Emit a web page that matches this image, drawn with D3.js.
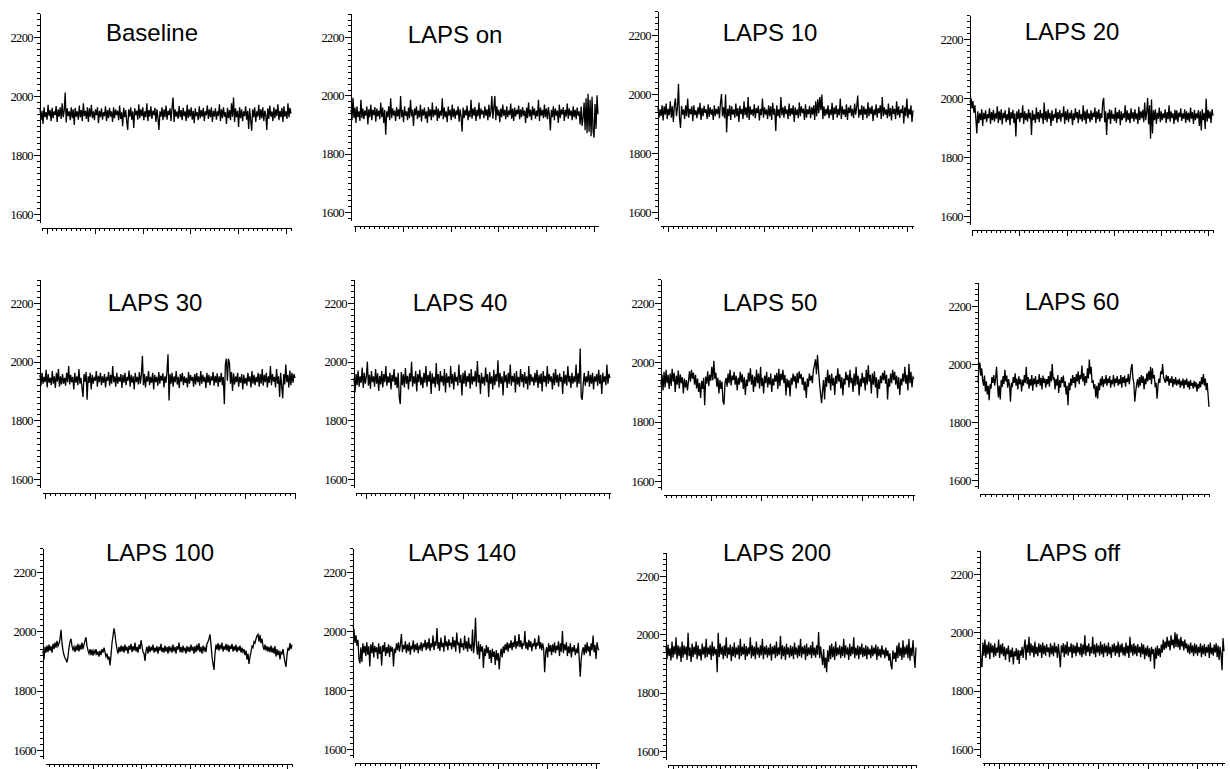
<!DOCTYPE html>
<html lang="en">
  <head>
    <meta charset="utf-8">
    <title>LAPS traces</title>
    <script src="https://cdnjs.cloudflare.com/ajax/libs/d3/7.8.0/d3.min.js"></script>
    <style>
      body { margin: 0; background: #fff; }
      .axis path, .axis line { stroke: #000; shape-rendering: crispEdges; }
      .axis text { font-family: "Liberation Serif", "DejaVu Serif", serif; font-size: 12.5px; letter-spacing: -0.6px; fill: #000; }
      .title { font-family: "Liberation Sans", Arial, sans-serif; font-size: 24px; fill: #000; }
      .trace { fill: none; stroke: #000; stroke-width: 1.3; }
    </style>
  </head>
  <body>
    <div id="chart"></div>

    <script type="text/javascript">
      // panel titles and y tick labels
      var titles = ["Baseline", "LAPS on", "LAPS 10", "LAPS 20", "LAPS 30", "LAPS 40",
                    "LAPS 50", "LAPS 60", "LAPS 100", "LAPS 140", "LAPS 200", "LAPS off"];
      var yTicks = [1600, 1800, 2000, 2200];

      // traces (250 samples each)
      var baseline = [
        1958,1918,1950,1905,1962,1928,1945,1920,1970,1932,1952,1915,1960,1925,1948,1935,1966,1912,1955,1930,1962,1922,1975,1928,1950,
        2012,1910,1958,1932,1948,1918,1962,1925,1955,1902,1960,1930,1948,1920,1968,1928,1952,1915,1975,1932,1950,1922,1962,1912,1958,
        1930,1970,1925,1948,1918,1955,1935,1962,1908,1950,1928,1958,1920,1945,1932,1965,1915,1952,1925,1960,1930,1948,1912,1962,1925,
        1955,1935,1950,1918,1968,1922,1945,1898,1960,1928,1952,1915,1885,1955,1930,1962,1920,1948,1892,1958,1935,1950,1920,1972,1925,
        1955,1932,1962,1918,1948,1928,1975,1915,1952,1930,1965,1922,1950,1935,1960,1912,1955,1925,1885,1948,1930,1962,1918,1955,1928,
        1968,1920,1950,1935,1958,1915,1962,1995,1912,1955,1930,1948,1922,1966,1928,1952,1918,1960,1932,1948,1915,1970,1925,1955,1930,
        1962,1920,1950,1908,1958,1932,1945,1918,1965,1925,1952,1930,1960,1915,1948,1935,1968,1922,1955,1928,1962,1912,1950,1930,1958,
        1920,1948,1932,1972,1915,1955,1925,1962,1930,1945,1905,1960,1925,1952,1918,1975,1930,1995,1912,1958,1928,1950,1895,1962,1925,
        1955,1915,1948,1932,1965,1920,1950,1888,1958,1918,1882,1955,1928,1962,1912,1948,1930,1970,1920,1955,1925,1962,1915,1950,1935,
        1885,1958,1922,1968,1930,1948,1915,1962,1925,1955,1932,1972,1918,1950,1928,1960,1912,1965,1930,1948,1922,1975,1928,1960,1940
      ];
      var lapsOn = [
        1950,1915,1992,1922,1958,1905,1962,1925,1945,1912,1985,1922,1955,1918,1948,1930,1962,1900,1952,1925,1968,1915,1950,1932,1960,
        1910,1955,1928,1948,1918,1975,1925,1958,1905,1950,1865,1945,1925,1962,1915,1990,1922,1955,1930,1948,1912,1960,1928,1952,1918,
        1998,1925,1950,1908,1962,1930,1945,1915,1958,1922,1985,1928,1950,1895,1955,1932,1962,1918,1948,1925,1968,1910,1952,1930,1958,
        1920,1945,1905,1960,1928,1952,1915,1975,1925,1950,1932,1962,1912,1955,1922,1948,1930,1990,1918,1958,1925,1945,1908,1962,1930,
        1950,1915,1968,1925,1955,1920,1948,1932,1962,1910,1952,1928,1875,1958,1922,1950,1930,1965,1915,1948,1925,1985,1920,1955,1930,
        1960,1912,1950,1928,1975,1918,1955,1935,1948,1922,1962,1930,1952,1915,1968,1925,1945,1998,1920,1958,1998,1915,1962,1930,1950,
        1908,1955,1925,1968,1930,1950,1918,1962,1925,1948,1932,1972,1920,1955,1912,1958,1928,1950,1935,1965,1918,1952,1925,1960,1930,
        1948,1905,1958,1922,1975,1928,1950,1915,1962,1932,1955,1920,1948,1928,1985,1912,1958,1930,1950,1922,1968,1925,1955,1918,1960,
        1932,1880,1950,1925,1962,1915,1955,1930,1948,1905,1968,1922,1952,1935,1960,1912,1950,1928,1972,1920,1955,1930,1948,1915,1962,
        1925,1950,1918,1958,1930,1945,1900,1962,1895,1925,1975,1880,1990,1870,2005,1875,1985,1860,1995,1880,1855,1970,1885,2000,1935
      ];
      var laps10 = [
        1955,1920,1948,1925,1962,1910,1958,1930,1968,1915,1950,1928,1975,1920,1958,1905,1962,1985,1925,1952,2035,1918,1885,1960,1930,
        1948,1915,1962,1925,1985,1920,1950,1932,1958,1908,1962,1928,1945,1918,1955,1930,1970,1912,1952,1925,1960,1935,1948,1915,1965,
        1922,1955,1930,1948,1912,1962,1925,1950,1932,1958,1918,1970,2000,1925,1955,1918,1998,1870,1950,1925,1962,1912,1958,1930,1948,
        1920,1968,1925,1952,1905,1960,1932,1950,1915,1975,1928,1955,1920,1990,1912,1958,1930,1948,1925,1965,1918,1952,1935,1960,1910,
        1950,1928,1985,1920,1955,1930,1948,1915,1962,1925,1958,1912,1970,1930,1950,1875,1962,1925,1948,1918,1990,1928,1955,1920,1960,
        1932,1948,1915,1968,1925,1952,1930,1962,1905,1955,1928,1948,1918,1972,1925,1958,1935,1950,1912,1965,1920,1948,1932,1960,1918,
        1955,1930,1962,1912,1975,1925,1982,1935,1990,1945,1998,1915,1958,1925,1950,1930,1962,1918,1948,1928,1970,1912,1955,1932,1962,
        1920,1950,1928,1985,1915,1958,1930,1948,1922,1965,1912,1955,1935,1962,1925,1950,1918,1968,1930,1955,1995,1920,1948,1928,1962,
        1912,1958,1930,1950,1918,1972,1925,1955,1932,1960,1908,1948,1928,1965,1920,1952,1935,1962,1915,1990,1925,1955,1930,1948,1918,
        1968,1925,1952,1910,1960,1932,1950,1915,1975,1928,1958,1920,1948,1935,1962,1900,1955,1925,1985,1918,1950,1930,1962,1905,1945
      ];
      var laps20 = [
        1985,2000,1965,1990,1950,1975,1930,1880,1955,1915,1948,1925,1962,1905,1950,1928,1958,1918,1945,1932,1965,1912,1952,1925,1960,
        1920,1948,1930,1972,1915,1955,1925,1962,1910,1950,1932,1958,1918,1945,1925,1968,1908,1952,1930,1960,1915,1948,1870,1955,1928,
        1962,1918,1950,1932,1975,1912,1955,1925,1948,1920,1962,1930,1950,1875,1958,1925,1945,1915,1968,1928,1952,1918,1960,1932,1948,
        1912,1985,1925,1955,1918,1962,1930,1950,1905,1958,1922,1945,1932,1965,1915,1952,1928,1960,1920,1948,1935,1972,1912,1955,1925,
        1962,1918,1950,1930,1958,1908,1948,1925,1965,1932,1952,1915,1960,1928,1945,1920,1975,1925,1955,1912,1962,1930,1948,1918,1958,
        1925,1950,1935,1968,1915,1955,1928,1962,1920,1948,1932,1985,2000,1918,1955,1875,1950,1928,1962,1912,1958,1930,1945,1922,1968,
        1915,1952,1930,1960,1908,1955,1925,1948,1932,1975,1918,1958,1925,1950,1915,1965,1930,1952,1920,1962,1928,1948,1912,1970,1925,
        1955,1932,1960,1918,1985,1925,1950,2000,1910,1975,1862,1995,1880,1958,1925,1962,1912,1950,1930,1968,1918,1955,1925,1948,1932,
        1962,1915,1952,1928,1975,1920,1955,1932,1948,1912,1960,1925,1958,1918,1950,1935,1965,1922,1948,1930,1962,1915,1955,1925,1950,
        1918,1968,1930,1952,1912,1960,1925,1948,1932,1958,1905,1955,1890,1962,1925,1950,1895,1998,1920,1960,1930,1955,1915,1962,1940
      ];
      var laps30 = [
        1955,1918,1962,1925,1948,1930,1972,1912,1958,1928,1945,1920,1968,1925,1950,1910,1962,1932,1975,1915,1950,1922,1958,1925,1945,
        1918,1962,1930,1985,1922,1955,1930,1948,1905,1962,1928,1950,1920,1975,1925,1945,1912,1880,1958,1932,1965,1870,1950,1928,1962,
        1905,1955,1925,1948,1935,1968,1915,1952,1930,1962,1920,1950,1928,1958,1912,1948,1935,1965,1918,1955,1925,1985,1930,1950,1915,
        1962,1925,1948,1932,1958,1910,1955,1928,1962,1920,1948,1935,1970,1915,1955,1928,1950,1905,1962,1930,1948,1922,1965,1925,1955,
        2020,1920,1958,1912,1950,1932,1968,1920,1948,1928,1962,1905,1955,1930,1948,1918,1965,1925,1952,1935,1960,1912,1950,1928,1968,
        2025,1868,1958,1925,1962,1915,1950,1930,1968,1922,1948,1910,1958,1932,1962,1920,1950,1928,1945,1912,1965,1925,1955,1935,1948,
        1915,1958,1922,1962,1930,1950,1918,1968,1925,1955,1932,1948,1910,1962,1928,1955,1920,1950,1935,1965,1918,1952,1928,1960,1915,
        1950,1930,1962,1920,1948,1855,1990,2010,1935,2010,1995,1925,1965,1900,1960,1922,1950,1930,1962,1915,1948,1928,1958,1905,1955,
        1925,1945,1918,1962,1932,1950,1912,1968,1925,1955,1920,1948,1930,1962,1915,1958,1925,1975,1918,1955,1930,1962,1912,1950,1928,
        1985,1920,1958,1932,1948,1912,1975,1925,1950,1880,1962,1918,1875,1958,1922,1990,1930,1955,1912,1970,1920,1962,1928,1958,1945
      ];
      var laps40 = [
        1945,1895,1958,1920,1970,1915,1950,1928,1980,1910,1962,1925,1948,2000,1918,1955,1908,1968,1930,1950,1915,1975,1925,1960,1900,
        1952,1922,1968,1912,1958,1930,1985,1918,1950,1928,1962,1905,1955,1932,1975,1920,1948,1910,1962,1880,1855,1965,1920,1958,1912,
        1978,1925,1952,1905,1960,1932,2000,1915,1950,1925,1968,1898,1958,1930,1972,1920,1948,1910,1962,1928,1985,1915,1955,1932,1968,
        1890,1960,1925,1948,1912,1995,1922,1958,1900,1968,1930,1952,1918,1975,1895,1960,1928,1950,1912,1985,1925,1958,1905,1965,1932,
        1948,1918,1990,1928,1955,1885,1962,1925,1970,1915,1952,1930,1960,1908,1975,1922,1950,1932,1968,1915,2002,1928,1955,1890,1962,
        1925,1948,1918,1980,1930,1958,1880,1965,1925,1950,1905,1972,1920,1958,1932,2005,1912,1962,1925,1950,1885,1968,1930,1955,1910,
        1962,1925,1990,1918,1952,1930,1960,1895,1968,1922,1948,1915,1975,1930,1958,1912,1965,1925,1950,1905,1985,1920,1958,1932,1948,
        1918,1962,1928,1972,1910,1955,1925,1960,1898,1968,1930,1952,1915,1985,1925,1958,1932,1950,1905,1962,1920,1975,1928,1955,1915,
        1960,1932,1948,1890,1968,1925,1955,1918,1985,1930,1952,1910,1962,1925,1950,1930,1990,1912,1960,1925,2045,1880,1870,1925,1962,
        1918,1950,1930,1968,1915,1955,1925,1962,1905,1950,1932,1958,1918,1972,1925,1955,1890,1962,1930,1950,1920,1990,1925,1958,1945
      ];
      var laps50 = [
        1925,1960,1905,1968,1915,1975,1930,1958,1910,1962,1920,1978,1935,1965,1900,1955,1925,1972,1912,1960,1930,1950,1895,1945,1915,
        1940,1905,1935,1970,1935,1975,1945,1965,1925,1958,1912,1945,1900,1930,1880,1938,1910,1948,1855,1952,1928,1970,1920,1958,1938,
        1985,1940,2005,1945,1965,1918,1948,1895,1940,1910,1935,1868,1858,1930,1948,1918,1962,1930,1975,1922,1955,1940,1968,1925,1955,
        1905,1948,1925,1968,1932,1960,1910,1950,1890,1942,1920,1965,1935,1980,1925,1958,1900,1952,1918,1975,1930,1962,1912,1985,1920,
        1948,1895,1955,1930,1968,1915,1950,1925,1962,1900,1945,1922,1958,1935,1965,1910,1978,1920,1962,1940,1975,1930,1958,1888,1945,
        1915,1940,1885,1948,1925,1962,1935,1955,1912,1965,1930,1970,1945,1960,1925,1950,1905,1935,1880,1945,1918,1962,1938,1955,1930,
        1975,1990,2010,1960,2025,1975,1930,1895,1862,1905,1940,1875,1950,1918,1975,1930,1958,1905,1962,1922,1948,1890,1955,1928,1980,
        1935,1960,1912,1950,1888,1945,1925,1968,1940,1958,1915,1975,1930,1948,1900,1962,1920,1985,1925,1955,1888,1945,1918,1965,1930,
        1950,1905,1975,1925,1990,1935,1958,1895,1962,1925,1970,1915,1950,1880,1942,1910,1955,1930,1965,1940,1972,1928,1958,1875,1945,
        1918,1962,1930,1975,1940,1968,1925,1955,1910,1950,1890,1945,1922,1962,1935,1985,1928,1958,1905,1995,1930,1968,1915,1950,1945
      ];
      var laps60 = [
        1935,1990,2005,1960,1985,1945,1925,1960,1905,1940,1895,1925,1875,1930,1915,1955,1935,1962,1925,1950,1990,1930,1885,1925,1878,
        1945,1920,1958,1930,1980,1940,1960,1918,1948,1925,1870,1935,1920,1955,1935,1968,1925,1950,1912,1958,1930,1948,1905,1945,1925,
        1962,1935,1990,1930,1955,1915,1948,1925,1962,1908,1950,1930,1958,1920,1945,1932,1965,1925,1952,1912,1960,1935,1950,1918,1948,
        1930,1958,1922,1975,1940,2000,1945,1955,1912,1948,1925,1962,1900,1945,1918,1955,1935,1960,1920,1940,1895,1925,1858,1935,1910,
        1950,1925,1962,1935,1955,1918,1965,1940,1975,1930,1962,1948,1995,1940,1968,1925,1958,1935,1985,1950,2015,1965,1990,1935,1945,
        1915,1930,1885,1925,1880,1935,1910,1950,1925,1958,1920,1948,1932,1962,1925,1950,1935,1958,1918,1945,1930,1962,1922,1950,1935,
        1958,1925,1948,1930,1962,1918,1955,1935,1960,1922,1950,1938,1965,1930,1955,1985,2000,1950,1935,1870,1905,1930,1948,1918,1955,
        1925,1962,1935,1958,1912,1950,1930,1968,1940,1975,1945,1990,1930,1985,1950,1962,1920,1935,1880,1925,1950,1935,1975,1965,2000,
        1955,1945,1935,1962,1940,1958,1925,1950,1935,1958,1920,1948,1930,1955,1925,1945,1930,1950,1918,1942,1925,1950,1915,1945,1928,
        1950,1920,1940,1912,1945,1925,1935,1915,1942,1920,1938,1905,1932,1915,1940,1920,1955,1930,1965,1925,1950,1910,1935,1895,1852
      ];
      var laps100 = [
        1935,1905,1948,1928,1952,1930,1955,1935,1950,1928,1958,1940,1962,1945,1968,1950,1958,1975,2005,1960,1935,1920,1910,1905,1895,
        1915,1945,1965,1975,1950,1938,1948,1930,1952,1935,1958,1932,1955,1938,1962,1940,1955,1968,1980,1950,1935,1925,1940,1920,1938,
        1918,1935,1925,1940,1920,1932,1915,1935,1920,1940,1928,1945,1930,1915,1925,1905,1915,1885,1920,1960,1985,2010,1990,1960,1940,
        1925,1948,1930,1952,1932,1950,1928,1955,1935,1948,1925,1952,1938,1958,1930,1950,1935,1962,1932,1948,1928,1955,1940,1970,1950,
        1930,1925,1900,1935,1948,1925,1952,1930,1948,1935,1955,1928,1945,1932,1950,1925,1948,1935,1958,1930,1945,1928,1952,1932,1948,
        1925,1950,1935,1945,1928,1955,1932,1948,1925,1950,1938,1962,1930,1948,1928,1952,1935,1945,1925,1950,1932,1948,1930,1955,1935,
        1948,1925,1950,1930,1955,1935,1960,1930,1948,1925,1952,1935,1945,1930,1958,1965,1975,1990,1955,1915,1890,1870,1925,1955,1938,
        1960,1935,1955,1940,1962,1932,1950,1938,1958,1935,1955,1930,1952,1940,1958,1932,1950,1935,1955,1930,1948,1935,1952,1928,1945,
        1930,1940,1920,1935,1905,1925,1890,1915,1930,1950,1945,1965,1960,1975,1985,1990,1965,1988,1960,1975,1950,1938,1955,1935,1950,
        1932,1948,1930,1952,1928,1945,1925,1950,1915,1940,1920,1935,1905,1930,1925,1940,1915,1895,1880,1920,1945,1935,1960,1940,1955
      ];
      var laps140 = [
        2015,2005,1960,1985,1950,1970,1905,1890,1945,1895,1958,1925,1950,1915,1962,1920,1948,1880,1955,1925,1962,1910,1950,1928,1945,
        1905,1958,1922,1948,1882,1952,1930,1962,1915,1945,1925,1955,1912,1950,1930,1945,1880,1940,1925,1958,1935,1962,1930,1955,1990,
        1928,1952,1938,1965,1925,1955,1932,1962,1920,1950,1938,1968,1928,1955,1935,1960,1925,1948,1940,1962,1932,1958,1945,1970,1935,
        1962,1940,1975,1932,1958,1945,1985,1935,1965,1950,2010,1940,1962,1932,1978,1945,1960,1930,1985,1948,1965,1935,1972,1950,1960,
        1938,1980,1945,1968,1930,1995,1952,1962,1925,1975,1945,1958,1935,1985,1940,1965,1930,1978,1940,1955,1932,2005,1925,1958,2045,
        1950,1920,1965,1905,1955,1930,1948,1875,1940,1915,1952,1925,1945,1905,1935,1892,1940,1912,1930,1885,1935,1900,1925,1870,1915,
        1940,1910,1948,1925,1955,1935,1962,1930,1958,1942,1968,1935,1962,1945,1985,1940,1965,1948,1990,1945,1968,1938,1960,1950,2000,
        1940,1962,1935,1970,1945,1965,1932,1958,1948,1975,1938,1960,1950,1985,1940,1962,1935,1958,1940,1860,1925,1945,1910,1958,1930,
        1952,1918,1955,1928,1962,1925,1950,1935,1965,1915,1958,1930,2000,1925,1955,1935,1962,1915,1948,1925,1958,1910,1945,1930,1952,
        1918,1940,1925,1960,1905,1845,1905,1930,1945,1918,1955,1925,1962,1930,1948,1915,1958,1935,1985,1928,1952,1905,1962,1940,1935
      ];
      var laps200 = [
        1958,1915,1965,1925,1952,1910,1975,1920,1960,1930,1990,1915,1962,1925,1958,1905,1975,1920,1962,1930,1958,1912,2005,1925,1955,
        1905,1968,1922,1958,1930,1975,1915,1962,1925,1950,1910,1968,1930,1958,1918,1985,1922,1955,1930,1962,1912,1975,1925,1958,1930,
        1950,1870,2005,1922,1968,1930,1958,1915,1962,1925,1990,1918,1955,1930,1965,1908,1958,1925,1972,1920,1955,1930,1962,1915,1985,
        1925,1958,1930,1968,1912,1960,1925,1955,1932,1990,1918,1962,1925,1958,1915,1975,1930,1955,1920,1962,1928,1985,1915,1958,1930,
        1962,1920,1955,1928,1968,1910,1958,1932,1962,1918,1975,1925,1955,1930,1995,1915,1962,1925,1958,1912,1968,1930,1955,1920,1962,
        1925,1958,1915,1972,1930,1955,1918,1962,1925,1985,1920,1958,1932,1962,1912,1968,1925,1955,1930,1962,1918,1975,1928,1955,1920,
        1962,1930,2008,1918,1958,1925,1895,1950,1885,1920,1870,1945,1905,1962,1915,1968,1922,1958,1912,1975,1925,1955,1930,1962,1918,
        1958,1925,1985,1920,1962,1930,1955,1912,1968,1925,1958,1932,1990,1918,1955,1928,1962,1915,1958,1930,1968,1922,1955,1925,1962,
        1915,1958,1930,1950,1918,1962,1925,1955,1932,1965,1912,1958,1925,1950,1920,1962,1930,1948,1918,1955,1925,1945,1910,1935,1895,
        1880,1945,1915,1938,1905,1962,1918,1972,1925,1955,1912,1980,1920,1958,1930,1965,1918,1985,1910,1955,1925,1980,1930,1885,1955
      ];
      var lapsOff = [
        1955,1905,1880,1965,1920,1975,1912,1958,1925,1968,1908,1962,1930,1955,1915,1962,1920,1948,1930,1975,1912,1958,1925,1962,1918,
        1950,1905,1945,1925,1955,1898,1940,1915,1948,1890,1935,1918,1945,1905,1940,1892,1938,1920,1950,1912,1948,1975,1905,1958,1930,
        1985,1920,1962,1930,1955,1915,1968,1925,1950,1918,1962,1930,1958,1912,1965,1925,1955,1920,1960,1932,1948,1915,1962,1925,1955,
        1918,1965,1930,1952,1912,1960,1925,1880,1955,1930,1962,1915,1958,1925,1968,1920,1950,1932,1962,1912,1958,1928,1955,1918,1965,
        1930,1950,1922,1962,1915,1958,1925,1990,1920,1955,1932,1962,1918,1950,1928,1985,1925,1958,1915,1962,1930,1955,1920,1968,1925,
        1958,1915,1962,1930,1955,1918,1965,1925,1950,1912,1958,1932,1962,1920,1955,1928,1968,1915,1958,1930,1962,1922,1950,1918,1965,
        1928,1955,1912,1985,1930,1958,1920,1962,1925,1955,1918,1960,1930,1950,1915,1962,1925,1958,1908,1948,1920,1955,1915,1945,1900,
        1950,1925,1942,1875,1948,1910,1955,1920,1945,1915,1958,1930,1975,1940,1968,1945,1985,1950,1972,1938,1990,1955,1975,1945,2000,
        1950,1995,1948,1978,1940,1985,1952,1970,1938,1975,1945,1962,1930,1958,1925,1965,1930,1955,1918,1962,1928,1958,1920,1950,1930,
        1962,1915,1955,1925,1960,1918,1950,1930,1958,1912,1965,1925,1948,1920,1958,1930,1962,1915,1955,1905,1950,1925,1870,1980,1935
      ];

      var series = [baseline, lapsOn, laps10, laps20, laps30, laps40,
                    laps50, laps60, laps100, laps140, laps200, lapsOff];

      // where each small panel sits on the page (they are not on a perfect grid)
      var layout = [
        { left: 40,  right: 291,  y2200: 37,  y1600: 214, t0: -0.1,  t1: 5.1,  tx: 152,  ty: 41 },
        { left: 351, right: 598,  y2200: 37,  y1600: 212, t0: -0.04, t1: 5.08, tx: 455,  ty: 43 },
        { left: 658, right: 913,  y2200: 35,  y1600: 212, t0: -0.17, t1: 5.12, tx: 770,  ty: 41 },
        { left: 970, right: 1213, y2200: 39,  y1600: 216, t0: 0.0,   t1: 5.1,  tx: 1072, ty: 40 },
        { left: 40,  right: 295,  y2200: 303, y1600: 479, t0: -0.06, t1: 5.0,  tx: 155,  ty: 311 },
        { left: 354, right: 610,  y2200: 303, y1600: 479, t0: -0.2,  t1: 5.02, tx: 460,  ty: 311 },
        { left: 661, right: 914,  y2200: 303, y1600: 481, t0: -0.95, t1: 4.02, tx: 770,  ty: 311 },
        { left: 978, right: 1209, y2200: 306, y1600: 480, t0: -0.7,  t1: 3.5,  tx: 1072, ty: 310 },
        { left: 43,  right: 292,  y2200: 572, y1600: 750, t0: -0.98, t1: 4.1,  tx: 160,  ty: 561 },
        { left: 353, right: 599,  y2200: 572, y1600: 749, t0: -0.91, t1: 4.06, tx: 462,  ty: 561 },
        { left: 666, right: 916,  y2200: 576, y1600: 751, t0: -0.1,  t1: 5.1,  tx: 777,  ty: 561 },
        { left: 980, right: 1224, y2200: 574, y1600: 749, t0: -0.34, t1: 4.54, tx: 1073, ty: 561 }
      ];

      var width = 1230, height = 769;

      var svg = d3.select("#chart")
                  .append("svg")
                  .attr("width", width)
                  .attr("height", height);

      svg.append("rect").attr("width", width).attr("height", height).attr("fill", "#fff");

      layout.forEach(function(p, i) {
        var values = series[i];
        var g = svg.append("g");

        var y = d3.scaleLinear().domain([1600, 2200]).range([p.y1600, p.y2200]);
        var yFrame = d3.scaleLinear().domain([1572, 2280]).range([y(1572), y(2280)]);
        var x = d3.scaleLinear().domain([0, values.length - 1]).range([p.left, p.right]);
        var t = d3.scaleLinear().domain([p.t0, p.t1]).range([p.left + 2, p.right]);

        // y axis: minor ticks every 20, labelled ticks every 200
        g.append("g")
         .attr("class", "axis")
         .attr("transform", "translate(" + p.left + ",0)")
         .call(d3.axisLeft(yFrame)
                 .tickValues(d3.range(1580, 2281, 20))
                 .tickSize(3)
                 .tickSizeOuter(0)
                 .tickFormat(""));

        var yMajor = g.append("g")
         .attr("class", "axis")
         .attr("transform", "translate(" + p.left + ",0)")
         .call(d3.axisLeft(y).tickValues(yTicks).tickSize(6).tickPadding(1).tickFormat(d3.format("d")));
        yMajor.select(".domain").remove();
        yMajor.selectAll("text").attr("font-family", null).attr("font-size", null);

        // x axis: no labels, ten minor ticks per major
        var xAxisY = p.y1600 + 14;
        var minor = d3.range(Math.ceil(p.t0 * 10), Math.floor(p.t1 * 10) + 1).map(function(k) { return k / 10; });
        var major = d3.range(Math.ceil(p.t0), Math.floor(p.t1) + 1);

        g.append("g")
         .attr("class", "axis")
         .attr("transform", "translate(0," + xAxisY + ")")
         .call(d3.axisBottom(t).tickValues(minor).tickSize(3).tickSizeOuter(0).tickFormat(""));

        var xMajor = g.append("g")
         .attr("class", "axis")
         .attr("transform", "translate(0," + xAxisY + ")")
         .call(d3.axisBottom(t).tickValues(major).tickSize(6).tickFormat(""));
        xMajor.select(".domain").remove();

        // trace
        var line = d3.line()
                     .x(function(d, k) { return x(k); })
                     .y(function(d) { return y(d); });

        g.append("path")
         .datum(values)
         .attr("class", "trace")
         .attr("d", line);

        g.append("text")
         .attr("class", "title")
         .attr("x", p.tx)
         .attr("y", p.ty)
         .attr("text-anchor", "middle")
         .text(titles[i]);
      });
    </script>
  </body>
</html>
